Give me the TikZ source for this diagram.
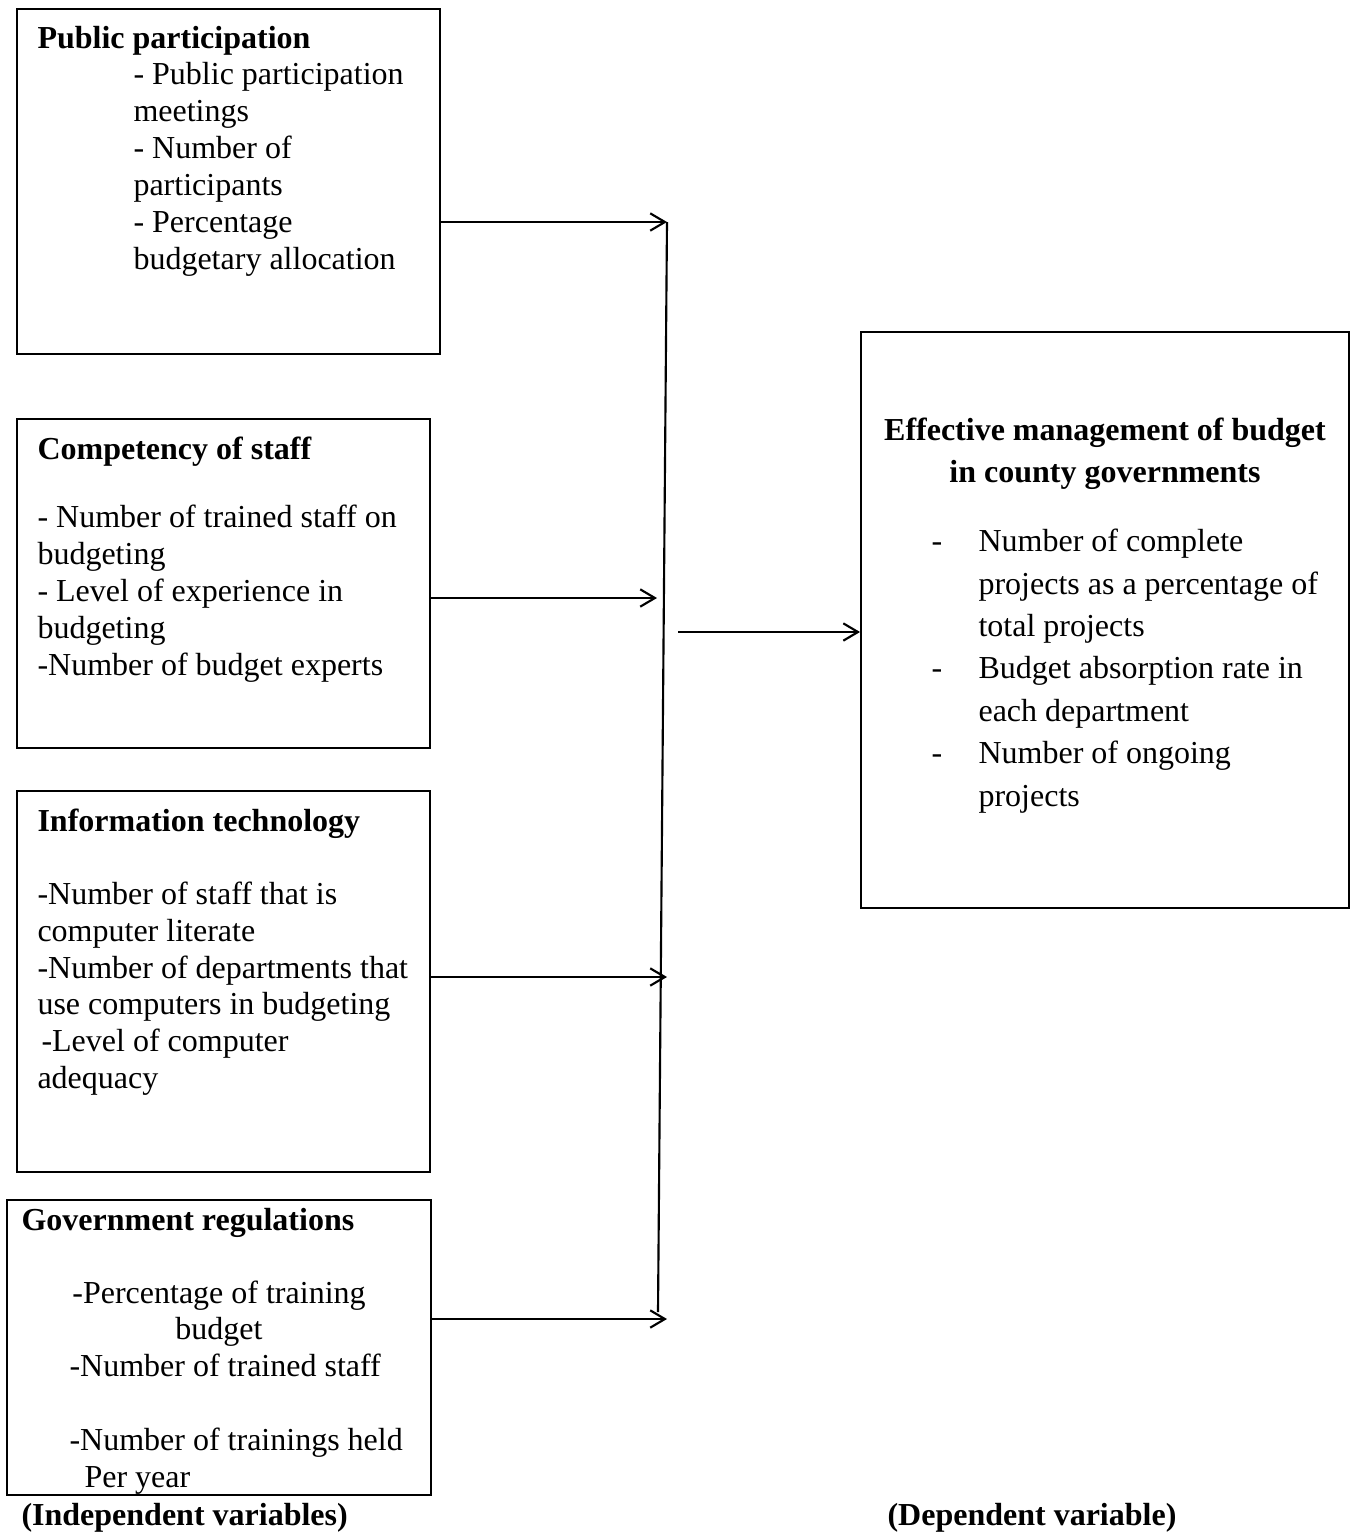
\documentclass[tikz,border=0pt]{standalone}
\usepackage{fontspec}
\setmainfont{Liberation Serif}
\usetikzlibrary{arrows.meta,fit}
\begin{document}
\begin{tikzpicture}[x=0.375pt,y=-0.375pt,
  box/.style={draw,line width=0.7pt,inner sep=0pt},
  txt/.style={anchor=base west,inner sep=0pt,font=\fontsize{12}{14}\selectfont},
  ctxt/.style={anchor=base,inner sep=0pt,font=\fontsize{12}{14}\selectfont},
  ttl/.style={txt,font=\fontsize{12}{14}\selectfont\bfseries},
  cttl/.style={ctxt,font=\fontsize{12}{14}\selectfont\bfseries},
  arr/.style={line width=0.8pt,-{Straight Barb[length=5.5pt,width=6.5pt]}},
  ln/.style={line width=0.8pt}]
\useasboundingbox (0,0) rectangle (1355,1536);
% boxes
\node[box,fit={(17,9) (440,354)}] (b1) {};
\node[box,fit={(17,419) (430,748)}] (b2) {};
\node[box,fit={(17,791) (430,1172)}] (b3) {};
\node[box,fit={(7,1200) (431,1495)}] (b4) {};
\node[box,fit={(861,332) (1349,908)}] (b5) {};
% box 1
\node[ttl] (p0) at (37,48) {Public participation};
\node[txt] (p1) at (133,84) {- Public participation};
\node[txt] (p2) at (133,121) {meetings};
\node[txt] (p3) at (133,158) {- Number of};
\node[txt] (p4) at (133,195) {participants};
\node[txt] (p5) at (133,232) {- Percentage};
\node[txt] (p6) at (133,269) {budgetary allocation};
% box 2
\node[ttl] (c0) at (37,459) {Competency of staff};
\node[txt] (c1) at (37,527) {- Number of trained staff on};
\node[txt] (c2) at (37,564) {budgeting};
\node[txt] (c3) at (37,601) {- Level of experience in};
\node[txt] (c4) at (37,638) {budgeting};
\node[txt] (c5) at (37,675) {-Number of budget experts};
% box 3
\node[ttl] (i0) at (37,831) {Information technology};
\node[txt] (i1) at (37,904) {-Number of staff that is};
\node[txt] (i2) at (37,941) {computer literate};
\node[txt] (i3) at (37,978) {-Number of departments that};
\node[txt] (i4) at (37,1014) {use computers in budgeting};
\node[txt] (i5) at (41,1051) {-Level of computer};
\node[txt] (i6) at (37,1088) {adequacy};
% box 4
\node[ttl] (g0) at (21,1230) {Government regulations};
\node[ctxt] (g1) at (219,1303) {-Percentage of training};
\node[ctxt] (g2) at (219,1339) {budget};
\node[txt] (g3) at (69,1376) {-Number of trained staff};
\node[txt] (g4) at (69,1450) {-Number of trainings held};
\node[txt] (g5) at (84,1487) {Per year};
% box 5
\node[cttl] (e0) at (1105,440) {Effective management of budget};
\node[cttl] (e1) at (1105,482) {in county governments};
\node[txt] (d1) at (931,551) {-};
\node[txt] (e2) at (978,551) {Number of complete};
\node[txt] (e3) at (978,594) {projects as a percentage of};
\node[txt] (e4) at (978,636) {total projects};
\node[txt] (d2) at (931,678) {-};
\node[txt] (e5) at (978,678) {Budget absorption rate in};
\node[txt] (e6) at (978,721) {each department};
\node[txt] (d3) at (931,763) {-};
\node[txt] (e7) at (978,763) {Number of ongoing};
\node[txt] (e8) at (978,806) {projects};
% labels
\node[ttl] (l1) at (21,1525) {(Independent variables)};
\node[ttl] (l2) at (887,1525) {(Dependent variable)};
% connectors
\coordinate (t1) at (667,222);
\coordinate (t2) at (657,598);
\coordinate (t3) at (667,977);
\coordinate (t4) at (667,1319);
\coordinate (vb) at (658,1312);
\coordinate (o1) at (678,632);
\draw[arr] (b1.east |- t1) -- (t1);
\draw[arr] (b2.east |- t2) -- (t2);
\draw[arr] (b3.east |- t3) -- (t3);
\draw[arr] (b4.east |- t4) -- (t4);
\draw[ln] (t1) -- (vb);
\draw[arr] (o1) -- (b5.west |- o1);
\end{tikzpicture}
\end{document}
